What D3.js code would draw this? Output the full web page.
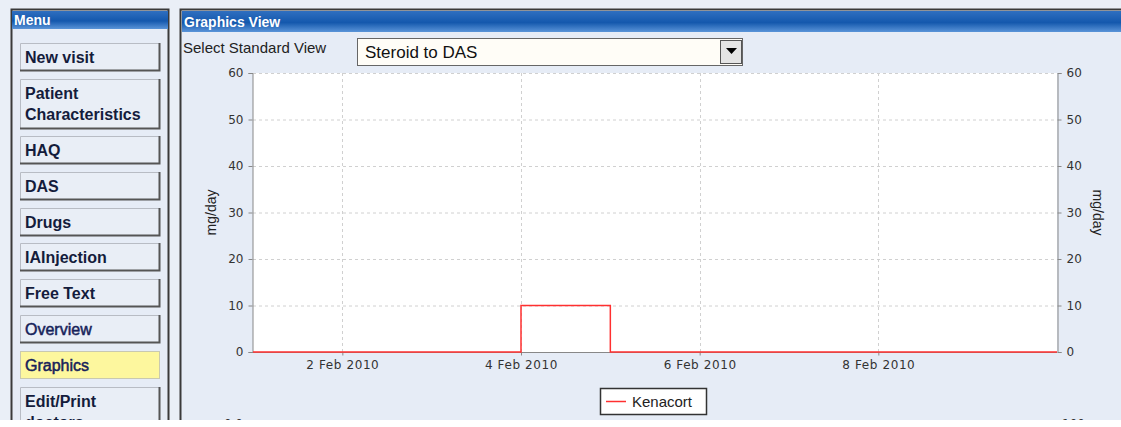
<!DOCTYPE html>
<html>
<head>
<meta charset="utf-8">
<script src="https://cdn.jsdelivr.net/npm/d3@7"></script>
<style>
  body { margin:0; background:#fff; }
  svg { display:block; }
</style>
</head>
<body>
<div id="chart"></div>
<script>

// data
var menuItems = [["New visit"], ["Patient", "Characteristics"], ["HAQ"], ["DAS"], ["Drugs"],
                 ["IAInjection"], ["Free Text"], ["Overview"], ["Graphics"], ["Edit/Print", "doctors"]];
var menuTops = [43, 79, 136, 172, 208, 243, 279, 315, 351, 387];
var menuActive = "Graphics";
var menuPlain = ["Overview", "Graphics"];

var stepDates = ["2010-02-01", "2010-02-04", "2010-02-05", "2010-02-10"];
var kenacort = [0, 10, 0, 0];
var yTicks = [0, 10, 20, 30, 40, 50, 60];
var xTickDates = ["2010-02-02", "2010-02-04", "2010-02-06", "2010-02-08"];
var seriesName = "Kenacort";
var yTitle = "mg/day";

var W = 1121, H = 427;
var svg = d3.select("#chart").append("svg").attr("width", W).attr("height", H)
    .style("font-family", "'Liberation Sans', Arial, sans-serif");

var defs = svg.append("defs");
var g1 = defs.append("linearGradient").attr("id", "bar").attr("x1", 0).attr("y1", 0).attr("x2", 0).attr("y2", 1);
g1.append("stop").attr("offset", "0%").attr("stop-color", "#2f6fc0");
g1.append("stop").attr("offset", "55%").attr("stop-color", "#1458ad");
g1.append("stop").attr("offset", "100%").attr("stop-color", "#5a94d8");

// page background
svg.append("rect").attr("width", W).attr("height", H).attr("fill", "#eaeff7");

// ---------- menu panel ----------
svg.append("rect").attr("x", 11.5).attr("y", 9.5).attr("width", 157).attr("height", 430)
    .attr("fill", "#e6ecf6").attr("stroke", "#3a3a3a").attr("stroke-width", 2);
svg.append("rect").attr("x", 12).attr("y", 11).attr("width", 156).attr("height", 18).attr("fill", "url(#bar)");
svg.append("text").attr("x", 14).attr("y", 25).text("Menu")
    .attr("fill", "#fff").attr("font-weight", "bold").attr("font-size", 14);

menuItems.forEach(function(lines, i) {
    var top = menuTops[i];
    var h = lines.length > 1 ? 50 : 28;
    var active = lines[0] == menuActive;
    var plain = menuPlain.indexOf(lines[0]) >= 0;
    var b = svg.append("g");
    b.append("rect").attr("x", 20).attr("y", top).attr("width", 140).attr("height", h)
        .attr("fill", active ? "#fdf79e" : "#e9eef6");
    if (!active) {
        b.append("path").attr("d", "M20.5," + (top + h) + "V" + (top + 0.5) + "H160")
            .attr("stroke", "#b8bcc4").attr("fill", "none");
        b.append("path").attr("d", "M20," + (top + h - 0.5) + "H159.5V" + top)
            .attr("stroke", "#555").attr("stroke-width", 2).attr("fill", "none");
    } else {
        b.append("rect").attr("x", 20.5).attr("y", top + 0.5).attr("width", 139).attr("height", h - 1)
            .attr("fill", "none").attr("stroke", "#c9c9b0");
    }
    lines.forEach(function(t, j) {
        var tx = b.append("text").attr("x", 25).attr("y", top + 20 + j * 21).text(t)
            .attr("font-size", 16).attr("font-weight", plain ? "normal" : "bold")
            .attr("fill", plain ? "#16225a" : "#141c3c");
        // the original shows these two a little heavier than regular
        if (plain)
            tx.attr("stroke", "#16225a").attr("stroke-width", 0.5);
    });
});

// ---------- graphics panel ----------
svg.append("rect").attr("x", 180.5).attr("y", 9.5).attr("width", 960).attr("height", 430)
    .attr("fill", "#e6ecf6").attr("stroke", "#3a3a3a").attr("stroke-width", 2);
svg.append("rect").attr("x", 182).attr("y", 11).attr("width", 950).attr("height", 21).attr("fill", "url(#bar)");
svg.append("text").attr("x", 184).attr("y", 27).text("Graphics View")
    .attr("fill", "#fff").attr("font-weight", "bold").attr("font-size", 14);

svg.append("text").attr("x", 183).attr("y", 53).text("Select Standard View")
    .attr("font-size", 15).attr("fill", "#222");
svg.append("rect").attr("x", 357.5).attr("y", 38.5).attr("width", 385).attr("height", 27)
    .attr("fill", "#fffdf7").attr("stroke", "#666");
svg.append("text").attr("x", 365).attr("y", 58).text("Steroid to DAS")
    .attr("font-size", 17).attr("fill", "#111");
svg.append("rect").attr("x", 720.5).attr("y", 40.5).attr("width", 21).attr("height", 23)
    .attr("fill", "#e4e4e4").attr("stroke", "#555");
svg.append("path").attr("d", "M726,48H737L731.5,54Z").attr("fill", "#000");

// ---------- chart ----------
var margin = {left: 253, right: 1057, top: 73, bottom: 352};
var parse = d3.utcParse("%Y-%m-%d");
var x = d3.scaleUtc().domain([parse("2010-02-01"), parse("2010-02-10")]).range([margin.left, margin.right]);
var y = d3.scaleLinear().domain([0, 60]).range([margin.bottom, margin.top]);

svg.append("rect").attr("x", margin.left).attr("y", margin.top)
    .attr("width", margin.right - margin.left).attr("height", margin.bottom - margin.top).attr("fill", "#fff");

var grid = svg.append("g").attr("stroke", "#d0d0d0").attr("stroke-dasharray", "3,3");
yTicks.forEach(function(v) {
    if (v == 0) return;
    grid.append("line").attr("x1", margin.left).attr("x2", margin.right).attr("y1", y(v) + 0.5).attr("y2", y(v) + 0.5);
});
xTickDates.forEach(function(d) {
    var px = Math.round(x(parse(d))) + 0.5;
    grid.append("line").attr("x1", px).attr("x2", px).attr("y1", margin.top).attr("y2", margin.bottom);
});

function styleAxis(g) {
    g.selectAll(".domain").attr("stroke", "#888");
    g.selectAll(".tick line").attr("stroke", "#888");
    g.selectAll("text").attr("fill", "#333").style("font-family", "'DejaVu Sans', sans-serif").attr("font-size", 12);
}

var yl = svg.append("g").attr("transform", "translate(" + (margin.left - 0.5) + ",0)")
    .call(d3.axisLeft(y).tickValues(yTicks).tickSize(4).tickSizeOuter(4).tickPadding(5));
styleAxis(yl);
var yr = svg.append("g").attr("transform", "translate(" + (margin.right + 0.5) + ",0)")
    .call(d3.axisRight(y).tickValues(yTicks).tickSize(4).tickSizeOuter(4).tickPadding(5));
styleAxis(yr);
var xa = svg.append("g").attr("transform", "translate(0," + (margin.bottom + 0.5) + ")")
    .call(d3.axisBottom(x).tickValues(xTickDates.map(parse)).tickSize(3).tickSizeOuter(0).tickPadding(5)
          .tickFormat(d3.utcFormat("%-d %b %Y")));
styleAxis(xa);
xa.select(".domain").remove();
xa.selectAll("text").attr("letter-spacing", 0.6);
svg.append("line").attr("x1", margin.left).attr("x2", margin.right)
    .attr("y1", margin.bottom + 0.5).attr("y2", margin.bottom + 0.5).attr("stroke", "#888");

svg.append("text").attr("transform", "translate(216," + ((margin.top + margin.bottom) / 2) + ") rotate(-90)")
    .attr("text-anchor", "middle").attr("font-size", 14).attr("fill", "#222").text(yTitle);
svg.append("text").attr("transform", "translate(1093," + ((margin.top + margin.bottom) / 2) + ") rotate(90)")
    .attr("text-anchor", "middle").attr("font-size", 14).attr("fill", "#222").text(yTitle);

var pts = stepDates.map(function(d, i) { return [parse(d), kenacort[i]]; });
var line = d3.line().x(function(d) { return x(d[0]); }).y(function(d) { return y(d[1]); }).curve(d3.curveStepAfter);
svg.append("path").datum(pts).attr("d", line).attr("fill", "none")
    .attr("stroke", "#ff3030").attr("stroke-width", 1.5);

// legend
svg.append("rect").attr("x", 600.5).attr("y", 388.5).attr("width", 106).attr("height", 26)
    .attr("fill", "#fff").attr("stroke", "#333").attr("stroke-width", 1.5);
svg.append("line").attr("x1", 606).attr("x2", 626).attr("y1", 401.5).attr("y2", 401.5)
    .attr("stroke", "#ff3030").attr("stroke-width", 1.5);
svg.append("text").attr("x", 632).attr("y", 407).attr("font-size", 15).attr("fill", "#222").text(seriesName);

// top of the next chart, cut off by the window
svg.append("text").attr("x", 243).attr("y", 428).attr("text-anchor", "end").attr("font-size", 12)
    .style("font-family", "'DejaVu Sans', sans-serif").attr("fill", "#333").text("0.0");
svg.append("text").attr("x", 1062).attr("y", 428).attr("font-size", 12)
    .style("font-family", "'DejaVu Sans', sans-serif").attr("fill", "#333").text("100");

svg.append("rect").attr("x", 0).attr("y", 420).attr("width", W).attr("height", 7).attr("fill", "#fff");

</script>
</body>
</html>
